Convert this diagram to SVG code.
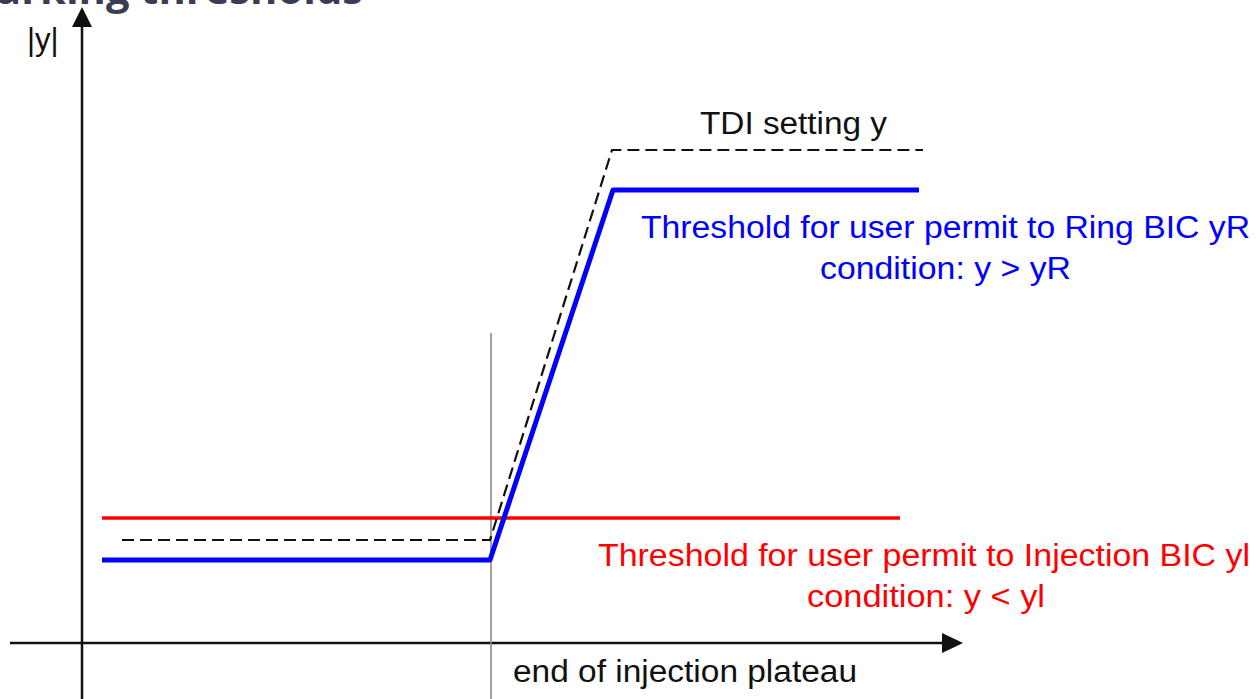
<svg xmlns="http://www.w3.org/2000/svg" width="1256" height="699" viewBox="0 0 1256 699">
<style>
.lbl{font-family:"Liberation Sans",Arial,sans-serif;font-size:31px}
.blk{fill:#111}
.blue{fill:#0000ff}
.red{fill:#ff0000}
.axis{stroke:#111;stroke-width:2.5;fill:none}
.dash{stroke:#111;stroke-width:2.2;fill:none;stroke-dasharray:12 6}
</style>
<rect width="1256" height="699" fill="#ffffff"/>
<text x="-4" y="4" textLength="367" lengthAdjust="spacingAndGlyphs" font-family="'Open Sans','Liberation Sans',sans-serif" font-weight="bold" font-size="41" fill="#3b3e52">arking thresholds</text>
<g id="connectors">
  <line id="y-axis" class="axis" x1="82" y1="699" x2="82" y2="22"/>
  <polygon points="82,7 72,27 92,27" fill="#111"/>
  <line id="x-axis" class="axis" x1="10" y1="643" x2="946" y2="643"/>
  <polygon points="963,643 942,633 942,653" fill="#111"/>
  <line id="plateau-marker" x1="491" y1="333" x2="491" y2="699" stroke="#8a8a8a" stroke-width="1.6"/>
  <line id="injection-threshold" x1="102" y1="518" x2="900" y2="518" stroke="#ff0000" stroke-width="3.5"/>
  <polyline id="tdi-setting" class="dash" points="122,540 490,540 612,150 923,150"/>
  <polyline id="ring-threshold" points="102,560 490,560 613,190 919,190" fill="none" stroke="#0000ff" stroke-width="5" stroke-linejoin="round"/>
</g>
<g id="label-y"><text class="lbl blk" x="27" y="50" font-size="28">|y|</text></g>
<g id="label-tdi"><text class="lbl blk" x="700" y="134" textLength="187" lengthAdjust="spacingAndGlyphs">TDI setting y</text></g>
<g id="label-ring">
  <text class="lbl blue" x="641" y="238" textLength="609" lengthAdjust="spacingAndGlyphs">Threshold for user permit to Ring BIC yR</text>
  <text class="lbl blue" x="820" y="279" textLength="251" lengthAdjust="spacingAndGlyphs">condition: y &gt; yR</text>
</g>
<g id="label-injection">
  <text class="lbl red" x="598" y="566" textLength="652" lengthAdjust="spacingAndGlyphs">Threshold for user permit to Injection BIC yl</text>
  <text class="lbl red" x="807" y="607" textLength="238" lengthAdjust="spacingAndGlyphs">condition: y &lt; yl</text>
</g>
<g id="label-plateau"><text class="lbl blk" x="513" y="682" textLength="344" lengthAdjust="spacingAndGlyphs">end of injection plateau</text></g>
</svg>
